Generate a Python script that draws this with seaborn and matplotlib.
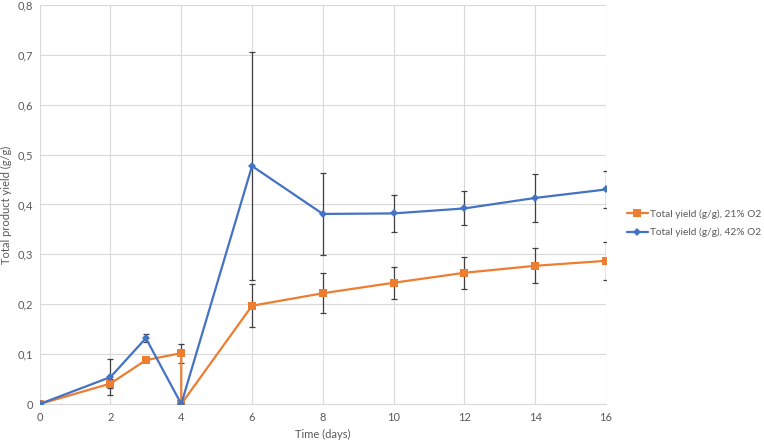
import matplotlib
matplotlib.use("Agg")
import matplotlib.pyplot as plt
import seaborn as sns
import pandas as pd

# ---- data ----
days_21 = [0, 2, 3, 4, 4, 6, 8, 10, 12, 14, 16]
yield_21 = [0.0, 0.041, 0.088, 0.102, 0.0, 0.197, 0.222, 0.243, 0.263, 0.277, 0.287]
err_21 = [0.0, 0.009, 0.0, 0.019, 0.0, 0.043, 0.040, 0.032, 0.032, 0.035, 0.038]

days_42 = [0, 2, 3, 4, 6, 8, 10, 12, 14, 16]
yield_42 = [0.0, 0.054, 0.132, 0.0, 0.477, 0.381, 0.382, 0.392, 0.413, 0.430]
err_42 = [0.0, 0.036, 0.008, 0.0, 0.229, 0.083, 0.037, 0.034, 0.049, 0.037]

label_21 = "Total yield (g/g), 21% O2"
label_42 = "Total yield (g/g), 42% O2"
x_label = "Time (days)"
y_label = "Total product yield (g/g)"
x_ticks = [0, 2, 4, 6, 8, 10, 12, 14, 16]
y_ticks = [0, 0.1, 0.2, 0.3, 0.4, 0.5, 0.6, 0.7, 0.8]
y_tick_labels = ["0", "0,1", "0,2", "0,3", "0,4", "0,5", "0,6", "0,7", "0,8"]

ORANGE = "#ED7D31"
BLUE = "#4472C4"
TEXT = "#595959"
GRID = "#D9D9D9"

sns.set_theme(style="white")
plt.rcParams["font.family"] = ["Lato", "DejaVu Sans"]

fig = plt.figure(figsize=(7.64, 4.43), dpi=100)
ax = fig.add_axes([0.052, 0.088, 0.741, 0.901])

df21 = pd.DataFrame({"x": days_21, "y": yield_21})
df42 = pd.DataFrame({"x": days_42, "y": yield_42})

ax.errorbar(days_21, yield_21, yerr=err_21, fmt="none", ecolor="#404040",
            elinewidth=0.9, capsize=2.5, capthick=0.9, zorder=2)
ax.errorbar(days_42, yield_42, yerr=err_42, fmt="none", ecolor="#404040",
            elinewidth=0.9, capsize=2.5, capthick=0.9, zorder=2)

sns.lineplot(data=df21, x="x", y="y", sort=False, estimator=None, ax=ax,
             color=ORANGE, linewidth=1.6, marker="s", markersize=5.5,
             markeredgewidth=0, label=label_21, zorder=3)
sns.lineplot(data=df42, x="x", y="y", sort=False, estimator=None, ax=ax,
             color=BLUE, linewidth=1.6, marker="D", markersize=4.2,
             markeredgewidth=0, label=label_42, zorder=4)

ax.set_xlim(0, 16)
ax.set_ylim(0, 0.8)
ax.set_xticks(x_ticks)
ax.set_xticklabels([str(t) for t in x_ticks])
ax.set_yticks(y_ticks)
ax.set_yticklabels(y_tick_labels)
ax.grid(True, color=GRID, linewidth=0.8)
ax.set_axisbelow(True)
for s in ["top", "right", "left"]:
    ax.spines[s].set_visible(False)
ax.spines["bottom"].set_color(GRID)
ax.spines["bottom"].set_linewidth(0.8)
ax.tick_params(axis="both", length=0, labelsize=8, colors=TEXT)
ax.tick_params(axis="y", pad=5)
ax.tick_params(axis="x", pad=6)
ax.set_xlabel(x_label, fontsize=8, color=TEXT, labelpad=4)
ax.set_ylabel(y_label, fontsize=8, color=TEXT, labelpad=4)

handles, labels = ax.get_legend_handles_labels()
ax.legend_.remove()
fig.legend(handles, labels, loc="center left", bbox_to_anchor=(0.821, 0.496),
           frameon=False, fontsize=7.3, labelcolor=TEXT, handlelength=2.0,
           handletextpad=0.2, labelspacing=0.9, borderaxespad=0, borderpad=0)

fig.savefig("out.png", dpi=100)
